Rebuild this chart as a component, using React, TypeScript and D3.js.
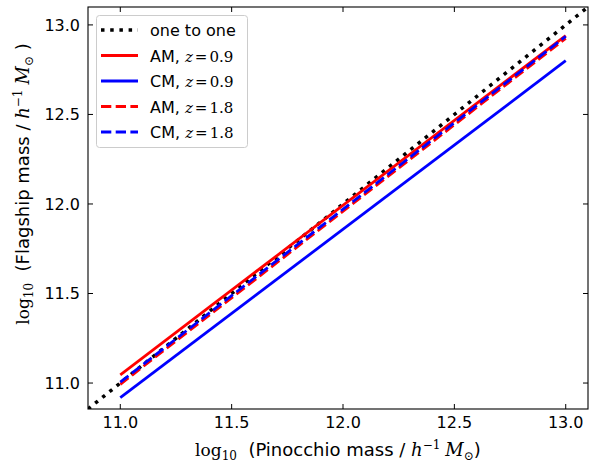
import React from "react";
import * as d3 from "d3";

const xTicks = [11.0, 11.5, 12.0, 12.5, 13.0];
const yTicks = [11.0, 11.5, 12.0, 12.5, 13.0];
const domain: [number, number] = [10.855, 13.1];

const oneToOneX = [10.855, 13.1];
const oneToOneY = [10.855, 13.1];

const amZ09X = [11.0, 13.0];
const amZ09Y = [11.045, 12.94];
const cmZ09X = [11.0, 13.0];
const cmZ09Y = [10.918, 12.8];
const amZ18X = [11.0, 13.0];
const amZ18Y = [10.993, 12.925];
const cmZ18X = [11.0, 13.0];
const cmZ18Y = [11.005, 12.936];

const seriesNames = ["one to one", "AM", "CM", "AM", "CM"];
const seriesZ = ["", "0.9", "0.9", "1.8", "1.8"];

const W = 606, H = 463;
const L = 88, R = 588, T = 7, B = 409;

function MassLabel({ name, close }: { name: string; close: string }) {
  const serif = "DejaVu Serif";
  return (
    <>
      <tspan fontFamily={serif} fontSize={17}>log</tspan>
      <tspan fontFamily={serif} fontSize={12} dy={4}>10</tspan>
      <tspan dy={-4}>{"\u00a0 (" + name + " mass / "}</tspan>
      <tspan fontFamily={serif} fontStyle="italic" fontSize={18}>h</tspan>
      <tspan fontFamily={serif} fontSize={12} dy={-7}>{"\u22121"}</tspan>
      <tspan fontFamily={serif} fontStyle="italic" fontSize={18} dy={7} dx={5}>M</tspan>
      <tspan fontFamily={serif} fontSize={12} dy={4}>{"\u2299"}</tspan>
      <tspan dy={-4}>{close}</tspan>
    </>
  );
}

export default function App() {
  const x = d3.scaleLinear().domain(domain).range([L, R]);
  const y = d3.scaleLinear().domain(domain).range([B, T]);
  const line = (xs: number[], ys: number[]) =>
    d3.line<number>().x((_, i) => x(xs[i])).y((_, i) => y(ys[i]))(xs) || "";

  const series = [
    { xs: oneToOneX, ys: oneToOneY, color: "#000", dash: "3.5,5.7", w: 3.5 },
    { xs: amZ09X, ys: amZ09Y, color: "#ff0000", dash: "", w: 2.8 },
    { xs: cmZ09X, ys: cmZ09Y, color: "#0000ff", dash: "", w: 2.8 },
    { xs: amZ18X, ys: amZ18Y, color: "#ff0000", dash: "10.3,4.4", w: 2.8 },
    { xs: cmZ18X, ys: cmZ18Y, color: "#0000ff", dash: "10.3,4.4", w: 2.8 },
  ];

  const sans = "DejaVu Sans";
  const serif = "DejaVu Serif";
  const tickLen = 5;

  const legendRows = [30, 55.5, 81, 106.5, 132];

  return (
    <svg width={W} height={H} style={{ position: "absolute", left: 0, top: 0, background: "#fff" }}
      xmlns="http://www.w3.org/2000/svg">
      <rect x={0} y={0} width={W} height={H} fill="#fff" />
      <defs>
        <clipPath id="plotclip">
          <rect x={L} y={T} width={R - L} height={B - T} />
        </clipPath>
      </defs>
      <g clipPath="url(#plotclip)">
        {series.map((s, i) => (
          <path key={i} d={line(s.xs, s.ys)} fill="none" stroke={s.color} strokeWidth={s.w}
            strokeDasharray={s.dash || undefined} />
        ))}
      </g>
      {xTicks.map((t) => (
        <g key={"x" + t}>
          <line x1={x(t)} x2={x(t)} y1={B} y2={B - tickLen} stroke="#000" strokeWidth={1} />
          <line x1={x(t)} x2={x(t)} y1={T} y2={T + tickLen} stroke="#000" strokeWidth={1} />
          <text x={x(t)} y={B + 19} textAnchor="middle" fontFamily={sans} fontSize={16}>{t.toFixed(1)}</text>
        </g>
      ))}
      {yTicks.map((t) => (
        <g key={"y" + t}>
          <line x1={L} x2={L + tickLen} y1={y(t)} y2={y(t)} stroke="#000" strokeWidth={1} />
          <line x1={R} x2={R - tickLen} y1={y(t)} y2={y(t)} stroke="#000" strokeWidth={1} />
          <text x={80} y={y(t) + 5.8} textAnchor="end" fontFamily={sans} fontSize={16}>{t.toFixed(1)}</text>
        </g>
      ))}
      <rect x={L} y={T} width={R - L} height={B - T} fill="none" stroke="#000" strokeWidth={1.1} />

      <rect x={96.5} y={15.5} width={151} height={132} rx={3} fill="#fff" fillOpacity={0.8}
        stroke="#cccccc" strokeWidth={1} />
      {series.map((s, i) => (
        <g key={"lg" + i}>
          <line x1={101} x2={138} y1={legendRows[i]} y2={legendRows[i]} stroke={s.color}
            strokeWidth={s.w} strokeDasharray={s.dash || undefined} />
          <text x={150} y={legendRows[i] + 6} fontFamily={sans} fontSize={16}>
            {seriesZ[i] === "" ? seriesNames[i] : (
              <>
                <tspan>{seriesNames[i]}, </tspan>
                <tspan fontFamily={serif} fontStyle="italic" fontSize={15}>z</tspan>
                <tspan fontFamily={serif} fontSize={15} dx={2}>=</tspan>
                <tspan fontFamily={serif} fontSize={15} dx={2}>{seriesZ[i]}</tspan>
              </>
            )}
          </text>
        </g>
      ))}

      <text x={(L + R) / 2} y={456} textAnchor="middle" fontFamily={sans} fontSize={18}>
        <MassLabel name="Pinocchio" close=")" />
      </text>

      <text transform={`translate(29, 184) rotate(-90)`} textAnchor="middle" fontFamily={sans} fontSize={18}>
        <MassLabel name="Flagship" close={"\u00a0)"} />
      </text>
    </svg>
  );
}
